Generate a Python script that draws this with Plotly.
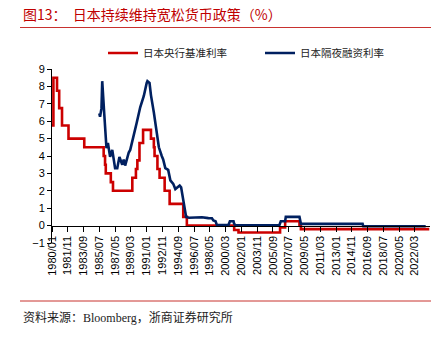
import plotly.graph_objects as go

# 日本央行基准利率 (step changes: month, value)
red_dates = ["1980-01", "1980-03", "1980-08", "1980-11", "1981-03", "1981-12", "1983-10",
             "1986-01", "1986-03", "1986-04", "1986-11", "1987-02", "1989-05", "1989-10",
             "1989-12", "1990-03", "1990-08", "1991-07", "1991-11", "1991-12", "1992-04",
             "1992-07", "1993-02", "1993-09", "1995-04", "1995-09", "2001-03", "2001-09",
             "2006-07", "2007-02", "2008-10", "2008-12", "2023-11"]
red_values = [5.75, 8.5, 7.75, 6.75, 5.75, 5.0, 4.5,
              4.0, 3.5, 3.0, 2.5, 2.0, 2.75, 3.25,
              3.75, 4.75, 5.5, 5.0, 4.5, 4.0, 3.25,
              2.75, 2.0, 1.25, 0.5, 0.0, -0.25, -0.4,
              -0.1, 0.25, 0.0, -0.2, -0.2]

# 日本隔夜融资利率
blue_dates = ["1985-07", "1985-08", "1985-10", "1985-11", "1986-02", "1986-05", "1986-07",
              "1986-08", "1986-10", "1987-01", "1987-03", "1987-05", "1987-08", "1987-11",
              "1988-03", "1988-05", "1988-07", "1988-10", "1988-12", "1989-02", "1989-04",
              "1989-07", "1989-11", "1990-04", "1990-09", "1991-01", "1991-02", "1991-05",
              "1991-07", "1991-11", "1992-03", "1992-06", "1992-10", "1992-12", "1993-03",
              "1993-07", "1993-10", "1994-02", "1994-05", "1994-08", "1994-11", "1995-01",
              "1995-04", "1995-06", "1995-08", "1995-12", "1996-06", "1997-06", "1998-03",
              "1998-08", "1998-10", "1999-01", "1999-03", "2000-07", "2000-09", "2001-02",
              "2001-03", "2001-05", "2006-06", "2006-08", "2007-02", "2007-03", "2008-10",
              "2008-11", "2008-12", "2016-02", "2016-03", "2023-06"]
blue_values = [6.45, 6.25, 6.75, 8.3, 6.3, 4.45, 4.75,
               4.55, 3.95, 4.35, 3.9, 3.3, 3.3, 3.95,
               3.5, 3.8, 3.45, 4.0, 4.2, 4.35, 4.65,
               5.2, 5.9, 6.8, 7.45, 8.2, 8.3, 8.2,
               7.5, 6.5, 5.5, 4.5, 4.0, 3.8, 3.3,
               3.2, 2.6, 2.4, 2.1, 2.2, 2.3, 2.2,
               1.4, 1.0, 0.5, 0.45, 0.47, 0.48, 0.43,
               0.42, 0.3, 0.25, 0.03, 0.03, 0.25, 0.25,
               0.1, 0.02, 0.02, 0.25, 0.25, 0.5, 0.5,
               0.3, 0.1, 0.1, -0.04, -0.04]

y_ticks = list(range(-1, 10))

RED = "#CC0000"
BLUE = "#002060"
CJK = "Noto Sans CJK SC"

fig = go.Figure()
fig.add_trace(go.Scatter(x=red_dates, y=red_values, mode="lines", name="日本央行基准利率",
                         line=dict(color=RED, width=2.6, shape="hv")))
fig.add_trace(go.Scatter(x=blue_dates, y=blue_values, mode="lines", name="日本隔夜融资利率",
                         line=dict(color=BLUE, width=2.6)))

W, H = 441, 338
L, R, T, B = 52, 11, 69, 95
pw, ph = W - L - R, H - T - B


def px(xp):
    return (xp - L) / pw


def py(yp):
    return 1 - (yp - T) / ph


fig.update_layout(
    width=W, height=H,
    margin=dict(l=L, r=R, t=T, b=B),
    paper_bgcolor="white", plot_bgcolor="white",
    showlegend=True,
    legend=dict(orientation="h", x=px(103), xanchor="left", y=py(53), yanchor="middle",
                font=dict(family=CJK, size=10.5, color="#222"),
                entrywidth=112, entrywidthmode="pixels", bgcolor="rgba(0,0,0,0)"),
    xaxis=dict(type="date", range=["1980-01-01", "2023-12-01"],
               tick0="1980-01-01", dtick="M22", tickformat="%Y/%m", tickangle=-90,
               ticks="outside", ticklen=5, tickcolor="#000", showline=True, linecolor="#000",
               linewidth=1, showgrid=False, zeroline=False, anchor="free", position=0.1,
               tickfont=dict(family="Liberation Sans, Arial", size=11, color="#000")),
    yaxis=dict(range=[-1, 9], tickvals=y_ticks, ticks="outside", ticklen=4, tickcolor="#000",
               showline=True, linecolor="#000", linewidth=1, showgrid=False, zeroline=False,
               tickfont=dict(family="Liberation Sans, Arial", size=11, color="#000")),
)

fig.add_annotation(text="图13：  日本持续维持宽松货币政策（%）", xref="paper", yref="paper",
                   x=px(21), y=py(14), xanchor="left", yanchor="middle", showarrow=False,
                   font=dict(family=CJK, size=14, color="#C00000"))
fig.add_annotation(text="资料来源：Bloomberg，浙商证券研究所", xref="paper", yref="paper",
                   x=px(21), y=py(317), xanchor="left", yanchor="middle", showarrow=False,
                   font=dict(family="Liberation Serif, " + CJK, size=12, color="#222"))
fig.add_shape(type="line", xref="paper", yref="paper", x0=px(20), x1=px(431),
              y0=py(27.5), y1=py(27.5), line=dict(color="#C8322F", width=1))
fig.add_shape(type="line", xref="paper", yref="paper", x0=px(20), x1=px(431),
              y0=py(301), y1=py(301), line=dict(color="#C8322F", width=1))

fig.write_html("out.html")
